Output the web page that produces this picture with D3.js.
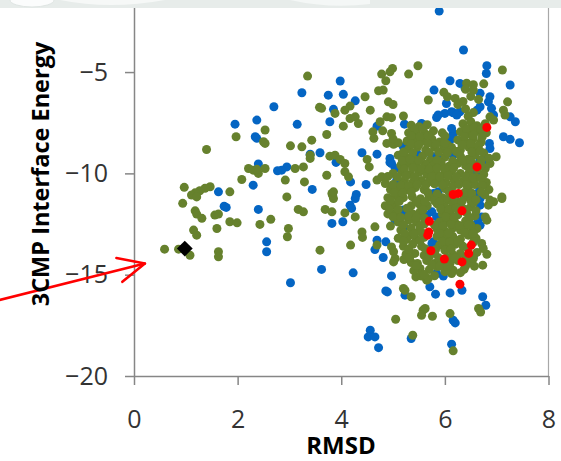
<!DOCTYPE html>
<html>
<head>
<meta charset="utf-8">
<script src="https://cdn.jsdelivr.net/npm/d3@7"></script>
<style>
body { margin: 0; background: #fff; }
text { font-family: "Open Sans", sans-serif; }
</style>
</head>
<body>
<svg width="561" height="461"></svg>
<script>
// [RMSD, 3CMP interface energy]
var blueSeries = [
  [5.89,-1.99],[6.36,-3.91],[6.81,-4.69],[6.80,-5.07],[6.10,-5.43],[7.26,-5.64],[3.98,-5.44],[3.24,-6.02],
  [3.75,-6.14],[4.04,-6.10],[4.27,-6.42],[3.85,-6.84],[3.78,-7.45],[3.15,-7.58],[4.69,-7.67],[5.22,-7.57],
  [5.79,-5.89],[5.84,-7.24],[6.00,-7.04],[6.16,-7.01],[6.29,-5.56],[6.39,-5.80],[6.68,-6.05],[6.87,-6.22],
  [6.90,-6.79],[6.94,-7.12],[7.26,-7.21],[7.36,-7.45],[7.13,-8.19],[7.26,-8.32],[7.44,-8.49],[6.86,-8.52],
  [6.87,-8.77],[4.40,-8.98],[4.69,-9.05],[3.59,-8.98],[3.40,-9.05],[4.94,-9.46],[5.04,-9.76],[3.90,-9.46],
  [2.95,-9.68],[2.85,-9.84],[4.18,-10.42],[4.48,-10.55],[3.44,-10.79],[4.29,-11.04],[5.46,-9.01],[5.75,-9.18],
  [6.16,-8.03],[6.10,-8.36],[6.68,-10.66],[6.62,-10.99],[4.27,-11.24],[4.17,-11.57],[4.20,-11.73],[3.82,-12.47],
  [4.03,-12.39],[4.69,-13.30],[4.86,-13.38],[4.65,-13.76],[4.81,-14.15],[5.04,-12.31],[3.62,-14.74],[4.23,-14.91],
  [3.02,-15.40],[4.97,-15.06],[4.86,-15.80],[4.89,-15.85],[5.23,-16.01],[5.71,-15.60],[5.82,-15.96],[6.10,-15.90],
  [6.33,-15.77],[5.84,-14.94],[5.97,-15.07],[6.73,-16.09],[6.79,-16.51],[6.16,-17.25],[6.20,-17.38],[4.56,-17.74],
  [4.52,-18.07],[4.65,-18.07],[4.72,-18.60],[5.35,-18.15],[6.13,-18.43],[5.75,-11.90],[5.84,-12.15],[5.65,-12.06],
  [5.78,-13.38],[5.75,-13.46],[6.62,-12.47],[6.68,-12.56],[6.55,-14.12],[6.68,-11.57],[6.71,-12.15],[6.65,-11.07],
  [6.03,-14.69],[5.14,-10.50],[5.20,-11.81],[5.21,-12.64],[1.95,-7.57],[2.37,-7.37],[2.34,-8.19],[2.37,-8.27],
  [2.40,-9.54],[2.77,-9.87],[2.30,-10.58],[1.63,-10.91],[1.78,-11.68],[1.74,-11.62],[2.40,-11.78],[2.56,-13.38],
  [2.56,-13.87],[2.70,-6.71],[6.84,-6.47],[5.87,-7.12],[6.13,-6.96],[6.29,-6.96],[6.23,-7.12],[6.03,-6.55],
  [6.62,-6.88],[6.68,-6.71],[5.55,-7.54],[5.07,-10.33],[4.94,-9.26],[4.97,-9.51],[5.81,-9.18],[5.87,-9.26],
  [6.16,-9.10],[6.13,-7.78],[6.16,-8.19],[6.68,-9.35],[6.74,-9.35],[6.68,-11.24],[5.78,-10.99],[5.87,-10.91],
  [5.20,-11.90],[6.62,-9.92],[5.20,-8.69]
];

var greenSeries = [
  [1.97,-8.19],[2.53,-7.86],[2.50,-8.44],[2.53,-8.52],[1.40,-8.82],[2.21,-9.76],[2.30,-9.84],[2.40,-10.00],
  [2.53,-9.76],[2.37,-9.80],[2.08,-10.30],[0.97,-10.69],[1.47,-10.66],[1.37,-10.74],[1.27,-10.86],[1.18,-10.96],
  [1.11,-11.07],[1.21,-11.16],[1.85,-10.91],[0.94,-11.48],[1.18,-11.85],[1.21,-12.01],[1.31,-12.22],[1.56,-12.06],
  [1.63,-12.01],[1.85,-12.39],[1.99,-12.44],[1.60,-12.72],[1.15,-12.80],[1.21,-13.05],[2.43,-12.52],[2.64,-12.27],
  [0.59,-13.74],[0.86,-13.74],[1.08,-14.04],[1.63,-13.87],[1.63,-14.12],
  [3.35,-5.20],[4.78,-5.10],[4.99,-4.82],[4.94,-4.99],[4.86,-5.43],[5.30,-5.10],[5.48,-4.69],[7.11,-4.90],
  [4.72,-5.92],[4.81,-5.89],[4.46,-6.22],[4.91,-6.47],[4.56,-6.88],[4.17,-6.68],[4.07,-6.88],[3.58,-6.74],
  [3.62,-6.79],[3.88,-7.04],[4.17,-7.29],[4.27,-7.21],[4.33,-7.54],[4.04,-7.67],[4.88,-7.21],[5.20,-7.17],
  [5.68,-6.38],[7.21,-6.47],[7.13,-6.88],[7.16,-7.12],[4.61,-7.95],[4.63,-8.27],[4.97,-8.03],[3.72,-8.08],
  [3.43,-8.36],[3.02,-8.64],[3.24,-8.69],[4.88,-8.52],[5.01,-8.56],[5.10,-8.49],[3.78,-9.15],[3.88,-9.10],
  [3.98,-9.31],[4.07,-9.51],[3.40,-9.26],[3.40,-9.10],[3.11,-9.76],[3.27,-9.68],[4.07,-9.92],[4.14,-10.17],
  [4.50,-9.31],[4.54,-9.68],[3.72,-10.09],[2.92,-10.33],[3.29,-10.42],[3.82,-10.99],[3.85,-11.24],[4.69,-10.33],
  [4.78,-10.17],[6.99,-9.18],[6.87,-9.51],[6.78,-9.76],[7.10,-11.16],[2.95,-11.16],
  [2.98,-12.72],[2.96,-13.13],[3.17,-11.78],[3.27,-11.90],[3.69,-11.78],[3.82,-11.90],[3.83,-11.07],[3.85,-10.91],
  [4.07,-11.95],[4.27,-12.15],[4.40,-12.89],[4.41,-13.16],[3.59,-13.79],[4.18,-13.54],[4.65,-12.64],[4.69,-13.54],
  [4.97,-13.63],[5.01,-13.87],[5.04,-14.20],[5.01,-14.37],[5.21,-14.25],[5.26,-13.26],[5.44,-15.11],[5.55,-15.07],
  [5.65,-15.27],[5.20,-15.68],[5.23,-15.77],[5.35,-16.09],[5.58,-16.75],[5.62,-16.67],[5.55,-17.00],[5.76,-17.05],
  [5.05,-17.20],[6.10,-16.92],[6.16,-18.76],[5.38,-17.99],[6.65,-16.67],[6.69,-16.84],[6.37,-14.74],[6.16,-14.78],
  [6.13,-14.94],[6.57,-14.58],[6.73,-14.53],[6.81,-13.99],[6.71,-13.46],[6.74,-13.71],[7.10,-11.24],[6.94,-11.40],
  [6.84,-11.57],[6.87,-11.32],[6.62,-12.72],[6.52,-12.89],[6.45,-13.05],[6.52,-13.05],[6.78,-12.15],[6.81,-12.31],
  [5.47,-14.45],[5.52,-14.69],[5.55,-14.94],[5.68,-15.19],[6.39,-14.28],
  [6.42,-5.55],[6.55,-5.62],[6.75,-5.58],[6.40,-5.85],[6.55,-5.90],[5.98,-6.00],[6.05,-6.22],[6.20,-6.30],
  [6.35,-6.45],[6.50,-6.20],[6.65,-6.35],[6.25,-6.60],[6.40,-6.82],[6.55,-7.00],[6.45,-7.18],[6.87,-7.21],
  [6.94,-7.37],[5.00,-6.60],[4.97,-7.25],[4.75,-7.45],[4.80,-7.90],[5.00,-8.30],
  [5.35,-7.62],[5.50,-7.70],[5.66,-7.60],[6.35,-7.55],[6.50,-7.45],[6.62,-7.65],[6.78,-7.55],
  [5.30,-8.00],[5.45,-7.95],[5.62,-8.05],[5.78,-7.90],[5.95,-8.00],[6.30,-7.95],[6.47,-8.05],[6.62,-7.90],[6.80,-8.00],
  [5.27,-8.40],[5.42,-8.30],[5.58,-8.40],[5.75,-8.30],[5.90,-8.45],[6.05,-8.60],[6.25,-8.35],[6.40,-8.45],[6.55,-8.30],[6.70,-8.45],
  [5.30,-8.80],[5.47,-8.70],[5.63,-8.85],[5.80,-8.70],[5.97,-8.80],[6.13,-8.72],[6.30,-8.85],[6.46,-8.70],[6.60,-8.85],[6.75,-9.00],
  [5.10,-9.10],[5.25,-9.20],[5.40,-9.30],[5.57,-9.15],[5.72,-9.35],[6.00,-9.20],[6.30,-9.15],[6.45,-9.30],[6.58,-9.10],[6.85,-9.25],
  [5.15,-9.60],[5.30,-9.50],[5.45,-9.65],[5.62,-9.55],[5.78,-9.60],[5.93,-9.50],[6.08,-9.65],[6.25,-9.50],[6.40,-9.62],[6.55,-9.55],[6.70,-9.60],
  [5.00,-10.00],[5.17,-9.95],[5.33,-10.05],[5.50,-9.95],[5.65,-10.05],[5.82,-9.95],[5.98,-10.05],[6.13,-9.90],[6.30,-10.00],[6.47,-9.95],[6.60,-10.20],[6.75,-10.05],
  [4.85,-10.50],[5.22,-10.35],[5.38,-10.45],[5.55,-10.35],[5.70,-10.40],[5.86,-10.30],[6.02,-10.45],[6.18,-10.35],[6.35,-10.40],[6.50,-10.30],[6.80,-10.45],
  [4.95,-10.80],[5.10,-10.75],[5.27,-10.80],[5.43,-10.70],[5.60,-10.80],[6.00,-10.75],[6.15,-10.65],[6.45,-10.75],[6.58,-10.55],[6.85,-10.80],
  [4.90,-11.20],[5.05,-11.10],[5.20,-11.20],[5.37,-11.15],[5.53,-11.25],[5.70,-11.15],[5.95,-11.20],[6.05,-11.30],[6.40,-11.15],[6.50,-11.35],[6.77,-11.05],
  [4.85,-11.60],[5.02,-11.55],[5.35,-11.60],[5.50,-11.50],[5.66,-11.60],[5.85,-11.50],[6.00,-11.65],[6.15,-11.50],[6.30,-11.60],[6.50,-11.65],[6.55,-11.45],
  [4.90,-12.00],[5.05,-11.95],[5.38,-12.00],[5.52,-11.90],[5.95,-12.00],[6.10,-11.90],[6.25,-12.05],[6.42,-11.95],[6.58,-12.10],
  [4.95,-12.60],[5.10,-12.40],[5.30,-12.30],[5.45,-12.40],[5.60,-12.50],[5.90,-12.40],[6.05,-12.30],[6.20,-12.45],[6.40,-12.35],[6.50,-12.55],
  [5.15,-12.80],[5.35,-12.70],[5.50,-12.85],[5.85,-12.75],[6.00,-12.85],[6.15,-12.70],[6.30,-12.80],[6.40,-12.60],
  [5.10,-13.20],[5.30,-13.10],[5.45,-13.25],[5.60,-13.15],[5.85,-13.10],[6.00,-13.20],[6.15,-13.10],[6.30,-13.25],[6.60,-13.20],
  [5.20,-13.60],[5.38,-13.50],[5.55,-13.60],[5.90,-13.55],[6.05,-13.65],[6.20,-13.50],[6.35,-13.60],[6.55,-13.40],
  [5.25,-14.00],[5.42,-13.95],[5.60,-14.05],[5.80,-13.95],[6.15,-14.00],[6.30,-13.95],[6.45,-14.05],[6.62,-13.90],
  [5.35,-14.40],[5.65,-14.30],[5.80,-14.45],[5.95,-14.35],[6.10,-14.45],[6.25,-14.30],[6.50,-14.40],
  [5.40,-14.80],[5.70,-14.75],[5.85,-14.60],[6.00,-14.85],[6.30,-14.90],
  [5.42,-7.82],[5.58,-7.78],[6.42,-7.80],[6.56,-7.75],[6.70,-7.82],
  [5.35,-8.15],[5.52,-8.18],[5.68,-8.12],[6.00,-8.15],[6.38,-8.18],[6.55,-8.12],[6.72,-8.20],
  [5.35,-8.55],[5.50,-8.58],[5.67,-8.52],[5.83,-8.57],[6.00,-8.50],[6.33,-8.60],[6.50,-8.55],[6.65,-8.62],
  [5.20,-8.95],[5.38,-8.98],[5.70,-8.97],[5.88,-8.95],[6.05,-8.98],[6.22,-8.92],[6.52,-8.95],[6.68,-8.90],
  [5.18,-9.38],[5.33,-9.32],[5.50,-9.37],[5.85,-9.35],[6.15,-9.38],[6.35,-9.33],[6.50,-9.40],[6.70,-9.35],
  [5.22,-9.78],[5.38,-9.72],[5.55,-9.77],[5.70,-9.80],[5.85,-9.75],[6.00,-9.78],[6.17,-9.72],[6.48,-9.75],[6.63,-9.80],
  [4.90,-10.15],[5.08,-10.18],[5.25,-10.12],[5.42,-10.17],[5.75,-10.15],[5.90,-10.18],[6.06,-10.12],[6.22,-10.17],[6.40,-10.15],[6.55,-10.22],[6.70,-10.25],
  [5.00,-10.55],[5.15,-10.58],[5.30,-10.62],[5.47,-10.55],[5.63,-10.58],[5.80,-10.52],[5.95,-10.57],[6.27,-10.55],[6.42,-10.58],[6.72,-10.60],
  [5.02,-10.95],[5.18,-10.98],[5.35,-10.92],[5.67,-10.95],[5.85,-11.02],[6.08,-10.92],[6.38,-10.95],[6.52,-10.98],[6.70,-10.92],
  [4.95,-11.35],[5.12,-11.38],[5.45,-11.37],[5.62,-11.40],[5.80,-11.35],[5.90,-11.42],[6.20,-11.33],[6.33,-11.38],[6.60,-11.30],
  [4.93,-11.75],[5.10,-11.78],[5.27,-11.72],[5.58,-11.80],[5.92,-11.75],[6.08,-11.78],[6.22,-11.72],[6.38,-11.77],[6.60,-11.85],
  [5.00,-12.15],[5.15,-12.18],[5.30,-12.12],[5.45,-12.17],[5.60,-12.20],[6.02,-12.15],[6.18,-12.18],[6.48,-12.20],
  [5.20,-12.55],[5.52,-12.60],[5.80,-12.55],[5.97,-12.58],[6.12,-12.52],[6.28,-12.57],[6.45,-12.55],
  [5.22,-12.95],[5.40,-12.98],[5.55,-12.92],[5.90,-12.97],[6.07,-12.95],[6.38,-12.92],[6.55,-12.97],
  [5.20,-13.35],[5.52,-13.32],[5.95,-13.37],[6.10,-13.40],[6.25,-13.35],
  [5.30,-13.75],[5.62,-13.72],[5.82,-13.77],[6.00,-13.80],[6.12,-13.75],[6.45,-13.72],
  [5.32,-14.15],[5.70,-14.12],[5.88,-14.17],[6.05,-14.15],[6.20,-14.18],[6.55,-14.20],
  [5.45,-14.55],[5.75,-14.52],[5.90,-14.57],[6.05,-14.60],[6.40,-14.58],
  [5.60,-15.00],[5.80,-15.05]
];

var redSeries = [
  [6.81,-7.73],[6.62,-9.68],[6.16,-11.04],[6.26,-10.99],[6.33,-11.85],[5.70,-12.36],[5.69,-12.89],
  [5.67,-13.05],[5.73,-13.82],[5.99,-14.23],[6.33,-14.37],[6.51,-13.54],[6.46,-13.95],[6.29,-15.47]
];

var nativePoint = [[0.98, -13.71]];
var arrowTail = [-2.6, -16.25];
var arrowTip = [0.21, -14.45];

var xTicks = [0, 2, 4, 6, 8];
var yTicks = [-20, -15, -10, -5];

var svg = d3.select("svg");
var plotTop = 8;

var x = d3.scaleLinear().domain([0, 8]).range([134, 548.5]);
var y = d3.scaleLinear().domain([-20, 0]).range([376, -29.25]);

function dots(data, color) {
  svg.append("g")
    .selectAll("circle")
    .data(data)
    .enter().append("circle")
    .attr("cx", function(d) { return x(d[0]); })
    .attr("cy", function(d) { return y(d[1]); })
    .attr("r", 4.5)
    .attr("fill", color);
}

// plot area right border
svg.append("line")
  .attr("x1", x(8)).attr("x2", x(8))
  .attr("y1", plotTop).attr("y2", y(-20))
  .attr("stroke", "#a8a8a8")
  .attr("stroke-width", 1.2);

var yAxis = svg.append("g")
  .attr("transform", "translate(" + x(0) + ",0)")
  .call(d3.axisLeft(y).tickValues(yTicks).tickSize(9).tickSizeOuter(0).tickPadding(17));

var xAxis = svg.append("g")
  .attr("transform", "translate(0," + y(-20) + ")")
  .call(d3.axisBottom(x).tickValues(xTicks).tickSize(9).tickSizeOuter(0).tickPadding(25));

[xAxis, yAxis].forEach(function(a) {
  a.select(".domain").attr("stroke", "#868686").attr("stroke-width", 1.5);
  a.selectAll(".tick line").attr("stroke", "#868686").attr("stroke-width", 1.5);
  a.selectAll(".tick text")
    .attr("font-family", "'Open Sans', sans-serif")
    .attr("font-size", 25)
    .attr("fill", "#333");
});

dots(blueSeries, "#0465c3");
dots(greenSeries, "#66812d");
dots(redSeries, "#ff0000");

svg.append("g")
  .selectAll("path")
  .data(nativePoint)
  .enter().append("path")
  .attr("d", d3.symbol().type(d3.symbolSquare).size(125))
  .attr("transform", function(d) { return "translate(" + x(d[0]) + "," + y(d[1]) + ") rotate(45)"; })
  .attr("fill", "#000");

// arrow pointing at the native structure
var tx = x(arrowTip[0]), ty = y(arrowTip[1]);
var sx = x(arrowTail[0]), sy = y(arrowTail[1]);
var ang = Math.atan2(sy - ty, sx - tx);
var head = 29, spread = 25 * Math.PI / 180;
var arrow = svg.append("g")
  .attr("stroke", "#ff0000")
  .attr("stroke-width", 2.6)
  .attr("fill", "none")
  .attr("stroke-linecap", "round")
  .attr("stroke-linejoin", "round");
arrow.append("line").attr("x1", sx).attr("y1", sy).attr("x2", tx).attr("y2", ty);
arrow.append("path")
  .attr("d", d3.line()([
    [tx + head * Math.cos(ang - spread), ty + head * Math.sin(ang - spread)],
    [tx, ty],
    [tx + head * Math.cos(ang + spread), ty + head * Math.sin(ang + spread)]
  ]));

svg.append("text")
  .attr("transform", "translate(49," + 174 + ") rotate(-90)")
  .attr("text-anchor", "middle")
  .attr("font-weight", "bold")
  .attr("font-size", 23.5)
  .attr("fill", "#000")
  .text("3CMP Interface Energy");

svg.append("text")
  .attr("x", 341)
  .attr("y", 454)
  .attr("text-anchor", "middle")
  .attr("font-weight", "bold")
  .attr("font-size", 24)
  .attr("fill", "#000")
  .text("RMSD");

// faded picture strip along the top edge
var strip = svg.append("g");
strip.append("rect")
  .attr("x", 0).attr("y", 0).attr("width", 561).attr("height", plotTop)
  .attr("fill", "#e7ecea");
strip.append("ellipse")
  .attr("cx", 32).attr("cy", 0).attr("rx", 22).attr("ry", 7)
  .attr("fill", "#fbfcfc").attr("stroke", "#dfe5e3");
strip.append("path")
  .attr("d", "M60,0 Q110,10 165,0 Z")
  .attr("fill", "#f6f8f7");
strip.append("path")
  .attr("d", "M290,0 Q330,9 370,4 L370,0 Z")
  .attr("fill", "#f4f7f6");
</script>
</body>
</html>
